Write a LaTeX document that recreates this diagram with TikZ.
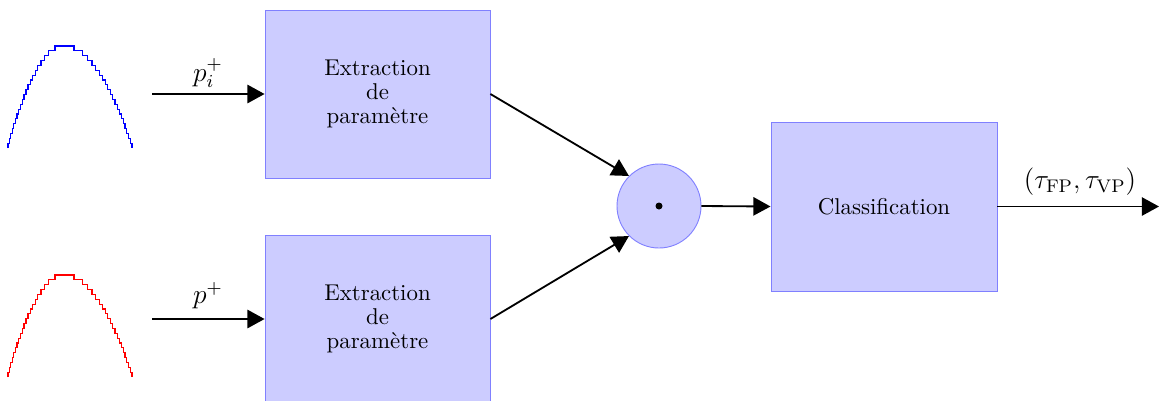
\documentclass[tikz,border=0pt]{standalone}
\usetikzlibrary{arrows.meta}
\newcommand\mystepcurve[1]{%
  \draw[#1, line width=0.5pt]
    ({64.5-sqrt(90+155*20)}, 148)
    \foreach \k in {20,...,1} {
      -- ({64.5-sqrt(90+155*\k)}, {46+\k*4.86})
      -- ({64.5-sqrt(90+155*(\k-1))}, {46+\k*4.86}) }
    -- ({64.5-sqrt(90)}, 46) -- ({64.5+sqrt(90)}, 46)
    \foreach \k in {1,...,20} {
      -- ({64.5+sqrt(90+223.3*(\k-1))}, {46+\k*4.86})
      -- ({64.5+sqrt(90+223.3*\k)}, {46+\k*4.86}) }
    -- ({64.5+sqrt(90+223.3*20)}, 148);}
\begin{document}
\begin{tikzpicture}[x=0.4375pt, y=-0.4375pt,
  block/.style={draw=blue!50, fill=blue!20, align=center,
    font={\fontsize{10pt}{10.5pt}\selectfont},
    minimum width=98.4pt, minimum height=73.5pt, inner sep=0pt},
  prodnode/.style={circle, draw=blue!50, fill=blue!20, minimum size=36.75pt, inner sep=0pt},
  arr/.style={thick, -{Triangle[length=7.5pt, width=8pt]}},
  lbl/.style={font=\large, inner sep=1pt}]
\useasboundingbox (0,0) rectangle (1159,400);

% input signals
\mystepcurve{blue}
\begin{scope}[shift={(0,229)}]
  \mystepcurve{red}
\end{scope}

% blocks
\node[block] (ext1) at (377.5,94) {Extraction\\de\\paramètre};
\node[block] (ext2) at (377.5,319) {Extraction\\de\\paramètre};
\node[prodnode] (prod) at (659,206) {};
\fill (prod.center) circle (3.5);
\node[block, minimum width=98.9pt, minimum height=73.9pt] (cls) at (884,206.5) {Classification};

% connectors
\coordinate (in1) at (152,94);
\coordinate (in2) at (152,319);
\coordinate (out) at (1159,206.5);
\draw[arr] (in1) -- (ext1.west);
\draw[arr] (in2) -- (ext2.west);
\draw[arr] (ext1.east) -- (prod.north west);
\draw[arr] (ext2.east) -- (prod.south west);
\draw[arr] (prod.east) -- (cls.west);
\draw[arr] (cls.east) -- (out);

% labels
\node[lbl] (l1) at (208,73) {$p_i^+$};
\node[lbl] (l2) at (208,296) {$p^+$};
\node[lbl] (l3) at (1080,182) {$(\tau_{\mathrm{FP}}, \tau_{\mathrm{VP}})$};
\end{tikzpicture}
\end{document}
